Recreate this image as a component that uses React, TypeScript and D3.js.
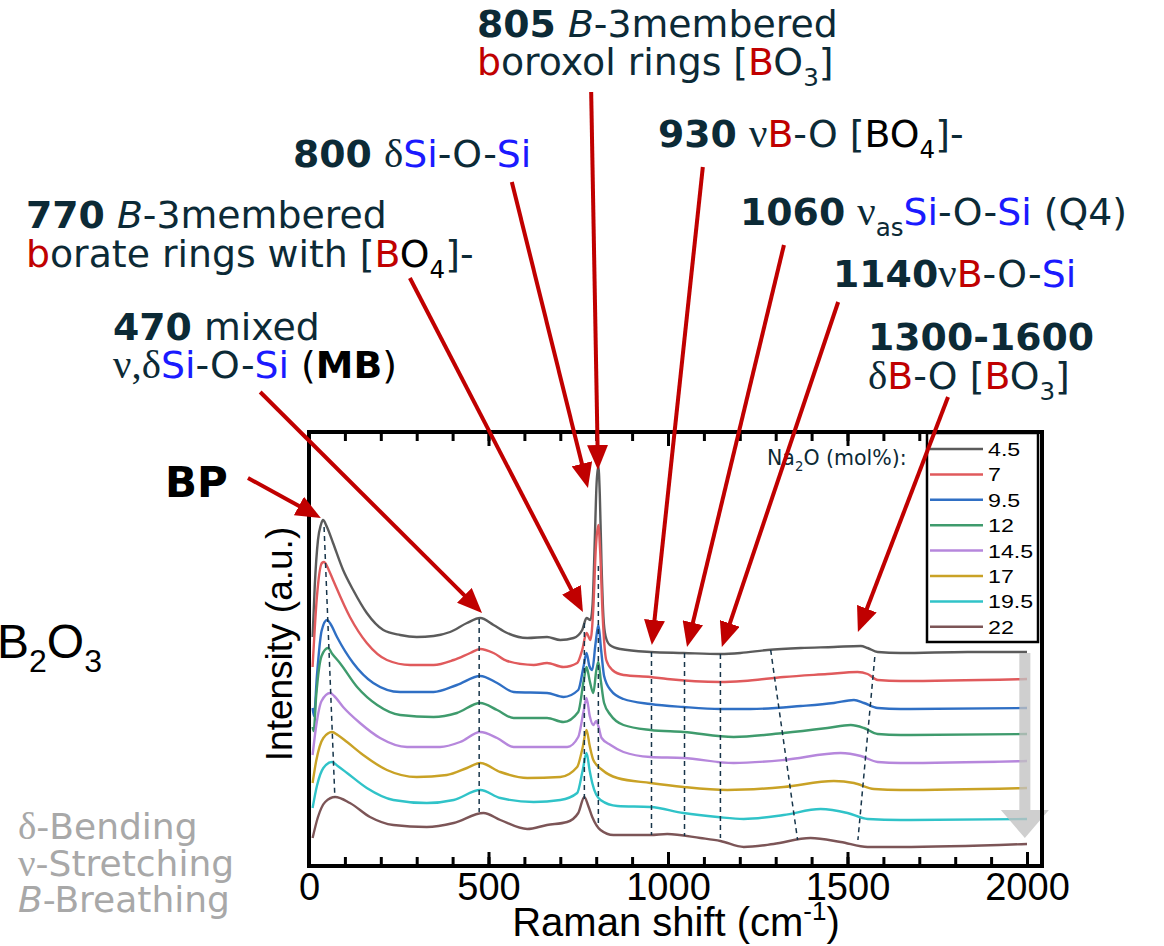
import { useEffect, useRef } from "react";
import * as d3 from "d3";

const W = 1164;
const H = 946;

// Na2O content (mol%) of each stacked spectrum, top to bottom
const na2o = ["4.5", "7", "9.5", "12", "14.5", "17", "19.5", "22"];
const colors = ["#5b5b5b", "#e05a5c", "#2f6fc4", "#3f9b6d", "#b687dc", "#c9a226", "#30c3c8", "#7c5557"];

// spectra: [Raman shift (cm-1), stacked intensity (a.u.)]
const spec45 = [
  [10, 229], [16, 280], [25, 326], [33, 341], [39, 346], [50, 339], [67, 323], [95, 296], [123, 276],
  [161, 253], [207, 236], [254, 231], [300, 229], [347, 230], [393, 234], [440, 243], [477, 248],
  [514, 241], [552, 233], [608, 228], [663, 229], [700, 226], [737, 228], [761, 236], [773, 248],
  [784, 246], [790, 262], [796, 325], [801, 382], [806, 400], [810, 372], [815, 300], [820, 250],
  [826, 230], [838, 221], [867, 217], [951, 214], [1043, 213], [1146, 212], [1202, 213], [1277, 216],
  [1370, 218], [1462, 219], [1537, 220], [1556, 218], [1584, 214], [1648, 213], [1835, 214], [2000, 214],
];
const spec7 = [
  [10, 199], [22, 269], [36, 303], [42, 304], [55, 296], [67, 286], [114, 249], [161, 223], [217, 206],
  [282, 201], [347, 201], [403, 206], [449, 213], [477, 217], [514, 213], [552, 205], [626, 201],
  [663, 203], [709, 199], [747, 203], [761, 216], [773, 233], [784, 226], [792, 258], [799, 318],
  [806, 341], [811, 315], [818, 250], [828, 206], [845, 196], [876, 191], [951, 189], [998, 187],
  [1146, 184], [1211, 185], [1322, 189], [1444, 192], [1528, 194], [1556, 192], [1584, 186],
  [1648, 185], [2000, 187],
];
const spec95 = [
  [10, 158], [14, 150], [22, 190], [35, 235], [50, 246], [60, 242], [78, 229], [123, 203], [179, 183],
  [254, 174], [347, 174], [412, 181], [477, 190], [524, 183], [570, 174], [663, 173], [709, 169],
  [750, 176], [765, 200], [773, 213], [781, 200], [789, 196], [798, 222], [806, 241], [814, 215],
  [822, 190], [840, 176], [876, 167], [951, 162], [1043, 159], [1146, 157], [1230, 157], [1370, 160],
  [1462, 163], [1518, 166], [1546, 163], [1584, 158], [1648, 157], [2000, 158],
];
const spec12 = [
  [10, 139], [13, 135], [20, 170], [35, 210], [53, 218], [65, 212], [86, 203], [134, 179], [190, 161],
  [254, 151], [347, 149], [412, 153], [477, 163], [524, 156], [570, 148], [663, 148], [709, 144],
  [750, 154], [765, 185], [773, 199], [782, 185], [792, 173], [800, 195], [806, 204], [813, 185],
  [822, 163], [840, 151], [876, 141], [951, 136], [1043, 134], [1183, 129], [1322, 133], [1444, 138],
  [1509, 141], [1546, 138], [1584, 132], [1648, 131], [2000, 132],
];
const spec145 = [
  [10, 111], [20, 140], [35, 165], [59, 173], [70, 170], [95, 159], [142, 143], [198, 128], [273, 119],
  [365, 119], [421, 124], [477, 134], [524, 128], [570, 119], [663, 119], [719, 119], [750, 129],
  [765, 155], [773, 168], [782, 150], [792, 141], [800, 145], [806, 140], [815, 128], [840, 121],
  [876, 114], [951, 109], [1043, 108], [1183, 103], [1322, 106], [1481, 113], [1537, 110], [1584, 104],
  [1648, 103], [2000, 105],
];
const spec17 = [
  [10, 83], [20, 105], [40, 128], [64, 134], [80, 131], [106, 124], [151, 111], [217, 96], [300, 89],
  [384, 91], [440, 98], [477, 103], [533, 94], [608, 88], [700, 89], [747, 99], [762, 118], [773, 136],
  [782, 120], [792, 106], [817, 96], [859, 88], [951, 83], [1043, 79], [1165, 76], [1322, 79],
  [1462, 85], [1518, 83], [1574, 77], [1648, 76], [2000, 78],
];
const spec195 = [
  [10, 58], [22, 80], [40, 98], [64, 104], [80, 100], [106, 93], [161, 78], [235, 66], [328, 63],
  [403, 66], [477, 76], [533, 68], [626, 64], [700, 66], [747, 73], [762, 95], [773, 113], [782, 95],
  [789, 83], [812, 66], [859, 60], [951, 59], [1043, 53], [1138, 49], [1211, 47], [1322, 51],
  [1425, 57], [1500, 53], [1556, 47], [1648, 46], [2000, 47],
];
const spec22 = [
  [10, 28], [25, 49], [45, 64], [73, 69], [114, 63], [170, 49], [235, 41], [328, 39], [403, 43],
  [486, 53], [533, 46], [608, 37], [663, 41], [719, 44], [750, 53], [767, 69], [778, 60], [789, 49],
  [812, 36], [848, 31], [951, 31], [998, 32], [1090, 28], [1146, 25], [1211, 19], [1294, 22],
  [1397, 28], [1481, 24], [1556, 19], [1648, 19], [2000, 22],
];
const spectra = [spec45, spec7, spec95, spec12, spec145, spec17, spec195, spec22];

const xTicks = [0, 500, 1000, 1500, 2000];

// dashed peak guides
const guides = [
  [[42, 339], [72, 69]],
  [[474, 247], [474, 54]],
  [[767, 243], [767, 66]],
  [[806, 300], [806, 39]],
  [[954, 214], [954, 31]],
  [[1046, 213], [1046, 30]],
  [[1146, 212], [1146, 28]],
  [[1286, 216], [1361, 26]],
  [[1576, 209], [1529, 26]],
];

// red annotation arrows, tail -> tip (same units as the spectra)
const arrows = [
  [[-170, 388], [33, 348]],
  [[-136, 474], [482, 253]],
  [[281, 588], [763, 254]],
  [[565, 684], [777, 378]],
  [[786, 774], [805, 396]],
  [[1097, 699], [955, 221]],
  [[1323, 621], [1053, 219]],
  [[1474, 564], [1150, 219]],
  [[1780, 469], [1529, 234]],
];

// trend arrow (increasing Na2O)
const trend = { w: 1994, from: 213, to: 28 };

type Seg = { t: string; c?: string; b?: boolean; i?: boolean; g?: boolean; sub?: boolean };
type Label = { x: number; y: number; size?: number; c?: string; segs: Seg[] };

const labels: Label[] = [
  { x: 477, y: 37, segs: [{ t: "805", b: true }, { t: " " }, { t: "B", i: true }, { t: "-3membered" }] },
  { x: 477, y: 75, segs: [{ t: "b", c: "r" }, { t: "oroxol rings [" }, { t: "B", c: "r" }, { t: "O" }, { t: "3", sub: true }, { t: "]" }] },
  { x: 293, y: 167, segs: [{ t: "800", b: true }, { t: " " }, { t: "δ", g: true }, { t: "Si", c: "u" }, { t: "-O-" }, { t: "Si", c: "u" }] },
  { x: 658, y: 147, segs: [{ t: "930", b: true }, { t: " " }, { t: "ν", g: true }, { t: "B", c: "r" }, { t: "-O [" }, { t: "BO", c: "k" }, { t: "4", c: "k", sub: true }, { t: "]-" }] },
  { x: 26, y: 228, segs: [{ t: "770", b: true }, { t: " " }, { t: "B", i: true }, { t: "-3membered" }] },
  { x: 26, y: 267, segs: [{ t: "b", c: "r" }, { t: "orate rings with [" }, { t: "B", c: "r" }, { t: "O", c: "k" }, { t: "4", c: "k", sub: true }, { t: "]-" }] },
  { x: 740, y: 225, segs: [{ t: "1060", b: true }, { t: " " }, { t: "ν", g: true }, { t: "as", sub: true }, { t: "Si", c: "u" }, { t: "-O-" }, { t: "Si", c: "u" }, { t: " (Q4)" }] },
  { x: 833, y: 287, segs: [{ t: "1140", b: true }, { t: "ν", g: true }, { t: "B", c: "r" }, { t: "-O-" }, { t: "Si", c: "u" }] },
  { x: 113, y: 340, segs: [{ t: "470", b: true }, { t: " mixed" }] },
  { x: 113, y: 378, segs: [{ t: "ν,δ", g: true }, { t: "Si", c: "u" }, { t: "-O-" }, { t: "Si", c: "u" }, { t: " (", c: "k" }, { t: "MB", c: "k", b: true }, { t: ")", c: "k" }] },
  { x: 868, y: 350, segs: [{ t: "1300-1600", b: true }] },
  { x: 868, y: 389, segs: [{ t: "δ", g: true }, { t: "B", c: "r" }, { t: "-O [" }, { t: "B", c: "r" }, { t: "O" }, { t: "3", sub: true }, { t: "]" }] },
  { x: 165, y: 497, size: 42, c: "k", segs: [{ t: "BP", b: true }] },
  { x: 18, y: 839, size: 36, c: "gr", segs: [{ t: "δ", g: true }, { t: "-Bending" }] },
  { x: 18, y: 876, size: 36, c: "gr", segs: [{ t: "ν", g: true }, { t: "-Stretching" }] },
  { x: 18, y: 912, size: 36, c: "gr", segs: [{ t: "B", i: true }, { t: "-Breathing" }] },
  { x: 767, y: 465, size: 20.5, segs: [{ t: "Na" }, { t: "2", sub: true }, { t: "O (mol%):" }] },
];

const palette: Record<string, string> = {
  d: "#0c2a36",
  r: "#c00000",
  u: "#1a1aff",
  k: "#000000",
  gr: "#a8a8a8",
};

export default function App() {
  const ref = useRef<SVGSVGElement>(null);

  useEffect(() => {
    const svg = d3.select(ref.current);
    svg.selectAll("*").remove();

    const x = d3.scaleLinear().domain([0, 2000]).range([309, 1027]);
    const y = d3.scaleLinear().domain([0, 434]).range([866, 432]);
    const frameRight = 1042;

    svg.append("rect").attr("width", W).attr("height", H).attr("fill", "#fff");

    const defs = svg.append("defs");
    defs.append("marker")
      .attr("id", "ah")
      .attr("markerUnits", "userSpaceOnUse")
      .attr("viewBox", "0 0 25 21")
      .attr("markerWidth", 25)
      .attr("markerHeight", 21)
      .attr("refX", 15)
      .attr("refY", 10.5)
      .attr("orient", "auto")
      .append("path")
      .attr("d", "M0,0L25,10.5L0,21Z")
      .attr("fill", "#c00000");

    // spectra
    const line = d3.line<number[]>()
      .x(d => x(d[0]))
      .y(d => y(d[1]))
      .curve(d3.curveMonotoneX);

    svg.append("g")
      .selectAll("path")
      .data(spectra)
      .join("path")
      .attr("d", d => line(d))
      .attr("fill", "none")
      .attr("stroke", (_, i) => colors[i])
      .attr("stroke-width", 2.4)
      .attr("stroke-linejoin", "round");

    // dashed guides
    svg.append("g")
      .selectAll("line")
      .data(guides)
      .join("line")
      .attr("x1", d => x(d[0][0]))
      .attr("y1", d => y(d[0][1]))
      .attr("x2", d => x(d[1][0]))
      .attr("y2", d => y(d[1][1]))
      .attr("stroke", "#17354a")
      .attr("stroke-width", 1.5)
      .attr("stroke-dasharray", "5,4");

    // trend arrow
    const cx = x(trend.w);
    const top = y(trend.from);
    const tip = y(trend.to);
    const base = tip - 28;
    svg.append("path")
      .attr("d", `M${cx - 5.5},${top}L${cx + 5.5},${top}L${cx + 5.5},${base}L${cx + 24},${base}L${cx},${tip}L${cx - 24},${base}L${cx - 5.5},${base}Z`)
      .attr("fill", "#c2c2c2")
      .attr("opacity", 0.78);

    // frame
    svg.append("rect")
      .attr("x", x(0))
      .attr("y", y(434))
      .attr("width", frameRight - x(0))
      .attr("height", y(0) - y(434))
      .attr("fill", "none")
      .attr("stroke", "#000")
      .attr("stroke-width", 4);

    const tickStyle = (g: any) => {
      g.select(".domain").remove();
      g.selectAll(".tick line").attr("stroke", "#000").attr("stroke-width", 3);
    };

    const minor = d3.axisBottom(x).ticks(20).tickSize(-7).tickFormat(() => "");
    svg.append("g").attr("transform", `translate(0,${y(0) - 2})`).call(minor).call(tickStyle);
    svg.append("g").attr("transform", `translate(0,${y(434) + 2})`)
      .call(d3.axisTop(x).ticks(20).tickSize(-7).tickFormat(() => "")).call(tickStyle);
    svg.append("g").attr("transform", `translate(0,${y(434) + 2})`)
      .call(d3.axisTop(x).tickValues(xTicks).tickSize(-12).tickFormat(() => "")).call(tickStyle);

    const major = svg.append("g")
      .attr("transform", `translate(0,${y(0) - 2})`)
      .call(d3.axisBottom(x).tickValues(xTicks).tickSize(-12).tickFormat(d3.format("d")))
      .call(tickStyle);
    major.attr("font-size", 38).attr("font-family", "Liberation Sans, Arial, sans-serif");
    major.selectAll(".tick text").attr("y", 36).attr("dy", null).attr("fill", "#000");

    // axis titles
    const xt = svg.append("text")
      .attr("x", 676)
      .attr("y", 936)
      .attr("text-anchor", "middle")
      .attr("font-family", "Liberation Sans, Arial, sans-serif")
      .attr("font-size", 40)
      .attr("fill", "#000");
    xt.append("tspan").text("Raman shift (cm");
    xt.append("tspan").text("-1").attr("font-size", 26).attr("dy", -16);
    xt.append("tspan").text(")").attr("dy", 16);

    svg.append("text")
      .attr("transform", "translate(292,644) rotate(-90)")
      .attr("text-anchor", "middle")
      .attr("font-family", "Liberation Sans, Arial, sans-serif")
      .attr("font-size", 37)
      .attr("fill", "#000")
      .text("Intensity (a.u.)");

    // B2O3 fragment on the left edge
    const bo = svg.append("text")
      .attr("x", -3)
      .attr("y", 658)
      .attr("font-family", "Liberation Sans, Arial, sans-serif")
      .attr("font-size", 48)
      .attr("fill", "#000");
    bo.append("tspan").text("B");
    bo.append("tspan").text("2").attr("font-size", 32).attr("dy", 14);
    bo.append("tspan").text("O").attr("dy", -14);
    bo.append("tspan").text("3").attr("font-size", 32).attr("dy", 14);

    // legend
    const lg = svg.append("g");
    lg.append("rect")
      .attr("x", 927).attr("y", 433).attr("width", 111).attr("height", 209)
      .attr("fill", "#fff").attr("stroke", "#000").attr("stroke-width", 2.5);
    na2o.forEach((n, i) => {
      const ly = 449 + i * 25.4;
      lg.append("line")
        .attr("x1", 930).attr("x2", 983).attr("y1", ly).attr("y2", ly)
        .attr("stroke", colors[i]).attr("stroke-width", 2.5);
      lg.append("text")
        .attr("transform", `translate(988,${ly + 7}) scale(1.22,1)`)
        .attr("font-family", "Liberation Sans, Arial, sans-serif")
        .attr("font-size", 19)
        .attr("fill", "#000")
        .text(n);
    });

    // annotation labels
    labels.forEach(l => {
      const fs = l.size ?? 37.8;
      const t = svg.append("text")
        .attr("x", l.x)
        .attr("y", l.y)
        .attr("font-family", "DejaVu Sans, Verdana, sans-serif")
        .attr("font-size", fs)
        .style("white-space", "pre");
      let shifted = false;
      l.segs.forEach(s => {
        const ts = t.append("tspan").text(s.t).attr("fill", palette[s.c ?? l.c ?? "d"]);
        if (s.b) ts.attr("font-weight", "bold");
        if (s.i) ts.attr("font-style", "italic");
        if (s.g) ts.attr("font-family", "Liberation Serif, Times New Roman, serif").attr("font-size", fs * 1.08);
        if (s.sub) {
          ts.attr("font-size", fs * 0.65);
          if (!shifted) { ts.attr("dy", fs * 0.3); shifted = true; }
        } else if (shifted) {
          ts.attr("dy", -fs * 0.3);
          shifted = false;
        }
      });
    });

    // red arrows
    svg.append("g")
      .selectAll("line")
      .data(arrows)
      .join("line")
      .each(function (d) {
        const x1 = x(d[0][0]), y1 = y(d[0][1]);
        const x2 = x(d[1][0]), y2 = y(d[1][1]);
        const len = Math.hypot(x2 - x1, y2 - y1);
        d3.select(this)
          .attr("x1", x1).attr("y1", y1)
          .attr("x2", x2 - ((x2 - x1) / len) * 10)
          .attr("y2", y2 - ((y2 - y1) / len) * 10);
      })
      .attr("stroke", "#c00000")
      .attr("stroke-width", 4)
      .attr("marker-end", "url(#ah)");
  }, []);

  return (
    <svg
      ref={ref}
      width={W}
      height={H}
      style={{ position: "absolute", left: 0, top: 0 }}
    />
  );
}
